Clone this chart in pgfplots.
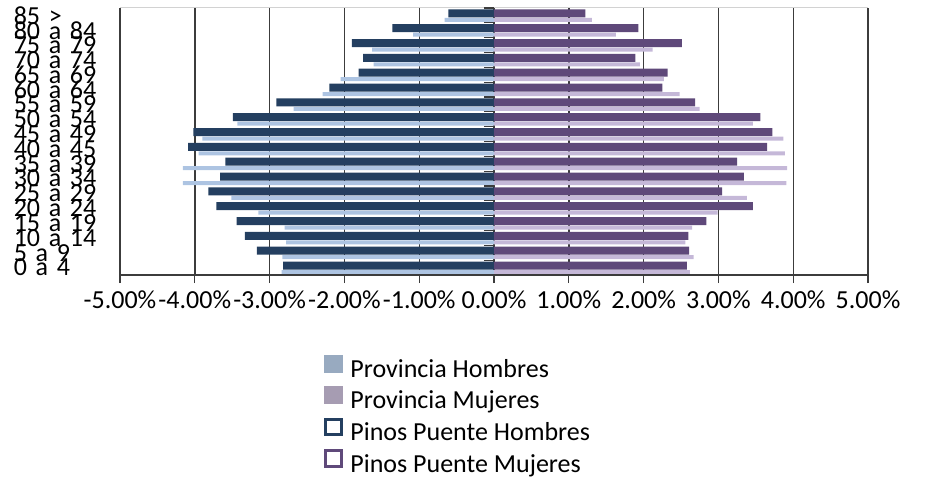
\documentclass[border=0pt]{standalone}
\usepackage{fontspec}
\setmainfont{Carlito}
\usepackage{pgfplots}
\usepackage{pgfplotstable}
\pgfplotsset{compat=1.18}

\definecolor{provH}{HTML}{ADC4E2}
\definecolor{provM}{HTML}{C5B8D8}
\definecolor{provHleg}{HTML}{98AAC0}
\definecolor{provMleg}{HTML}{A69CB2}
\definecolor{ppH}{HTML}{243F60}
\definecolor{ppM}{HTML}{5F497A}
\definecolor{gridc}{HTML}{3C3C3C}

% percentages; men negative
\pgfplotstableread{
y  ppH    ppM   provH  provM
0  -2.82  2.58  -2.84  2.62
1  -3.17  2.61  -2.83  2.67
2  -3.33  2.60  -2.78  2.56
3  -3.44  2.84  -2.80  2.65
4  -3.71  3.46  -3.15  2.99
5  -3.82  3.05  -3.51  3.38
6  -3.66  3.34  -4.16  3.91
7  -3.59  3.25  -4.16  3.92
8  -4.09  3.65  -3.95  3.89
9  -4.02  3.72  -3.90  3.87
10 -3.49  3.56  -3.43  3.46
11 -2.91  2.69  -2.68  2.75
12 -2.20  2.25  -2.29  2.48
13 -1.81  2.32  -2.05  2.27
14 -1.75  1.89  -1.61  1.95
15 -1.90  2.51  -1.63  2.12
16 -1.36  1.93  -1.08  1.63
17 -0.61  1.22  -0.66  1.31
}\pyramid

\begin{document}
\begin{tikzpicture}
\begin{axis}[
  name=ax,
  scale only axis, width=748pt, height=267pt,
  xmin=-5, xmax=5, ymin=-0.5, ymax=17.5,
  font=\fontsize{26}{26}\selectfont,
  xtick={-5,-4,...,5},
  xticklabels={-5.00\%,-4.00\%,-3.00\%,-2.00\%,-1.00\%,0.00\%,1.00\%,2.00\%,3.00\%,4.00\%,5.00\%},
  ytick={0,1,...,17},
  yticklabels={0 a 4,5 a 9,10 a 14,15 a 19,20 a 24,25 a 29,30 a 34,35 a 39,40 a 45,45 a 49,50 a 54,55 a 59,60 a 64,65 a 69,70 a 74,75 a 79,80 a 84,85 >},
  axis line style={draw=none},
  xmajorgrids, major grid style={gridc, line width=1.4pt},
  tick align=outside, xtick pos=lower, major tick length=8pt,
  xtick style={gridc, line width=1.2pt},
  ytick style={draw=none},
  xticklabel style={yshift=-4pt},
  yticklabel style={text width=98pt, align=left, inner sep=0pt, anchor=east},
  legend style={at={(0.269,-0.292)}, anchor=north west, draw=none, fill=none,
    font=\fontsize{26}{26}\selectfont, row sep=5.5pt},
  legend cell align=left,
]
\addplot[xbar, bar width=4pt, bar shift=-4.5pt, fill=provH, draw=none,
  legend image code/.code={\fill[provHleg] (0pt,-4pt) rectangle (19pt,14pt); \path (24pt,0pt);}]
  table[x=provH, y=y] {\pyramid};
\addlegendentry{Provincia Hombres}
\addplot[xbar, bar width=4pt, bar shift=-4.5pt, fill=provM, draw=none,
  legend image code/.code={\fill[provMleg] (0pt,-4pt) rectangle (19pt,14pt); \path (24pt,0pt);}]
  table[x=provM, y=y] {\pyramid};
\addlegendentry{Provincia Mujeres}
\addplot[xbar, bar width=8pt, bar shift=2pt, fill=ppH, draw=none,
  legend image code/.code={\draw[ppH, line width=3pt, fill=white] (1.5pt,-2.5pt) rectangle (17.5pt,13pt); \path (24pt,0pt);}]
  table[x=ppH, y=y] {\pyramid};
\addlegendentry{Pinos Puente Hombres}
\addplot[xbar, bar width=8pt, bar shift=2pt, fill=ppM, draw=none,
  legend image code/.code={\draw[ppM, line width=3pt, fill=white] (1.5pt,-2.5pt) rectangle (17.5pt,13pt); \path (24pt,0pt);}]
  table[x=ppM, y=y] {\pyramid};
\addlegendentry{Pinos Puente Mujeres}
\end{axis}
% axis lines and the ticks on the zero axis
\draw[gray!35, line width=1pt] (ax.north west) -- (ax.north east);
\draw[gridc, line width=1.6pt] (ax.south west) -- (ax.south east);
\foreach \k in {0,...,18}
  \draw[gridc, line width=1.2pt] ([xshift=374pt, yshift=\k*14.8333pt]ax.south west) -- ++(-10pt,0pt);
\pgfresetboundingbox
\useasboundingbox ([xshift=-120pt, yshift=-203pt]ax.south west) rectangle ++(925pt,478pt);
\end{tikzpicture}
\end{document}
